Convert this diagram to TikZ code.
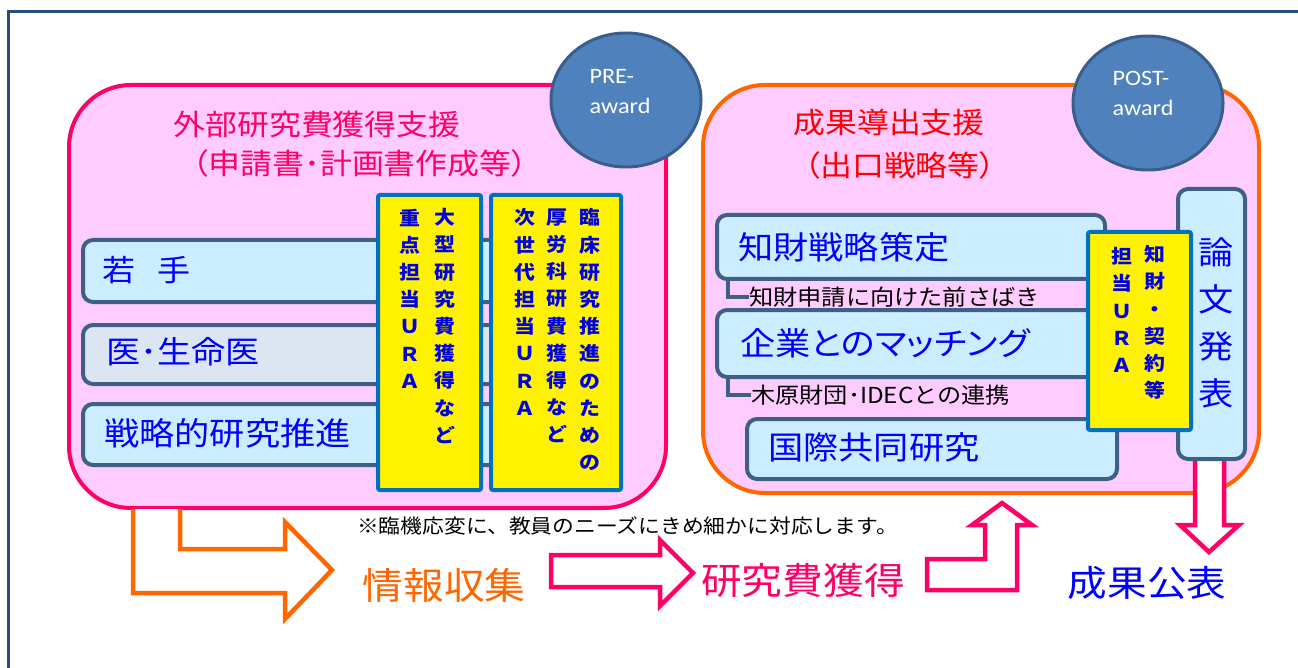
\documentclass[tikz,border=0pt]{standalone}
\usepackage{fontspec}
\usetikzlibrary{shapes.geometric}
\newfontfamily\jp[FakeStretch=1.1]{Noto Sans CJK JP}
\newfontfamily\jpp[FakeStretch=1.1,RawFeature=+palt]{Noto Sans CJK JP}
\newfontfamily\lat[FakeStretch=1.1]{Carlito}
\definecolor{pinkfill}{HTML}{FFCCFF}
\definecolor{magB}{HTML}{FF0066}
\definecolor{orgB}{HTML}{FF6600}
\definecolor{badgeF}{HTML}{4F81BD}
\definecolor{badgeB}{HTML}{3A5E8C}
\definecolor{lblue}{HTML}{CCECFF}
\definecolor{lgray}{HTML}{DCE6F2}
\definecolor{boxB}{HTML}{3E5F86}
\definecolor{yB}{HTML}{0070C0}
\definecolor{txtB}{HTML}{0000FF}
\definecolor{colT}{HTML}{0000E0}
\definecolor{frameC}{HTML}{264E80}
\definecolor{redT}{HTML}{FF0000}
\tikzset{
  panelL/.style={fill=pinkfill, draw=magB, line width=4pt, rounded corners=62pt},
  panelR/.style={fill=pinkfill, draw=orgB, line width=4pt, rounded corners=62pt},
  badge/.style={ellipse, fill=badgeF, draw=badgeB, line width=3pt, minimum width=150pt, minimum height=134pt, inner sep=0pt},
  badgetxt/.style={text=white, align=left, inner sep=0pt, font=\lat\fontsize{22}{30}\selectfont},
  bluebox/.style={fill=lblue, draw=boxB, line width=4pt, rounded corners=10pt, inner sep=0pt, anchor=north west},
  ybox/.style={fill=yellow, draw=yB, line width=4pt, rounded corners=2pt, inner sep=0pt, anchor=north west},
  lbl/.style={text=txtB, anchor=west, inner sep=0pt},
  vcol/.style={text=colT, align=center, inner sep=0pt, font=\jp\bfseries\fontsize{19}{27.2}\selectfont},
  sub/.style={text=black, anchor=west, inner sep=0pt, font=\jp\fontsize{22}{24}\selectfont},
  conn/.style={draw=boxB, line width=4pt},
  barrow/.style={fill=white, line width=4.5pt, line join=miter},
  big/.style={inner sep=0pt, font=\jp\fontsize{37}{40}\selectfont},
  ttl/.style={inner sep=0pt, font=\jp\fontsize{29}{32}\selectfont},
}
\begin{document}
\begin{tikzpicture}[x=1pt,y=-1pt]
\useasboundingbox (0,0) rectangle (1298,668);
% frame
\draw[frameC, line width=3pt] (8,670) -- (8,12) -- (1300,12);
% panels
\draw[panelL] (69,85) rectangle (666,508);
\draw[panelR] (703,85) rectangle (1259,493);
% badges
\node[badge] (pre) at (626,100) {};
\node[badgetxt] (pretxt) at (620,92) {PRE-\\award};
\node[badge] (post) at (1148,103) {};
\node[badgetxt] (posttxt) at (1143,93) {POST-\\award};
% titles
\node[ttl, text=magB] (t1) at (317,125) {外部研究費獲得支援};
\node[ttl, text=magB, font=\jpp\fontsize{29}{32}\selectfont] (t1b) at (360,163) {（申請書･計画書作成等）};
\node[ttl, text=redT] (t2) at (889,123) {成果導出支援};
\node[ttl, text=redT, font=\jpp\fontsize{29}{32}\selectfont] (t2b) at (900,165) {（出口戦略等）};
% left blue boxes
\node[bluebox, minimum width=479pt, minimum height=62pt] (wakate) at (81,238) {};
\node[bluebox, fill=lgray, minimum width=479pt, minimum height=59pt] (ika) at (81,323) {};
\node[bluebox, minimum width=479pt, minimum height=61pt] (senr) at (81,402) {};
\node[lbl, font=\jp\fontsize{30}{32}\selectfont] (wakateL) at (102,270) {若\kern22pt 手};
\node[lbl, font=\jp\fontsize{31}{33}\selectfont] (ikaL) at (106,352) {医･生命医};
\node[lbl, font=\jp\fontsize{32}{34}\selectfont] (senrL) at (104,433) {戦略的研究推進};
% left yellow boxes
\node[ybox, minimum width=103pt, minimum height=295pt] (y1) at (376,193) {};
\node[ybox, minimum width=130pt, minimum height=295pt] (y2) at (489,193) {};
\node[vcol] (y1a) at (445,326) {大\\型\\研\\究\\費\\獲\\得\\な\\ど};
\node[vcol] (y1b) at (410,298.6) {重\\点\\担\\当\\Ｕ\\Ｒ\\Ａ};
\node[vcol] (y2a) at (590,339.6) {臨\\床\\研\\究\\推\\進\\の\\た\\め\\の};
\node[vcol] (y2b) at (557,326) {厚\\労\\科\\研\\費\\獲\\得\\な\\ど};
\node[vcol] (y2c) at (525,312) {次\\世\\代\\担\\当\\Ｕ\\Ｒ\\Ａ};
% right side sub labels and connectors
\node[sub] (sub1) at (749,297) {知財申請に向けた前さばき};
\node[sub] (sub2) at (751,395) {木原財団･IDECとの連携};
\node[bluebox, minimum width=388pt, minimum height=64pt] (chizai) at (715,213) {};
\node[bluebox, minimum width=385pt, minimum height=67pt] (kigyo) at (715,308) {};
\draw[conn] ([xshift=13pt]chizai.south west) |- (sub1.west);
\draw[conn] ([xshift=13pt]kigyo.south west) |- (sub2.west);
\node[bluebox, minimum width=370pt, minimum height=60pt] (kokusai) at (745,417) {};
\node[lbl, font=\jp\fontsize{32}{34}\selectfont] (chizaiL) at (738,247) {知財戦略策定};
\node[lbl, font=\jpp\fontsize{32}{34}\selectfont] (kigyoL) at (740,343) {企業とのマッチング};
\node[lbl, font=\jp\fontsize{32}{34}\selectfont] (kokusaiL) at (768,447) {国際共同研究};
% down arrow (behind paper box)
\draw[barrow, draw=magB] (1195,459) -- (1195,525) -- (1180,525) -- (1209,552) -- (1239,525) -- (1224,525) -- (1224,459);
\node[bluebox, minimum width=67pt, minimum height=270pt] (ronbun) at (1176,187) {};
\node[text=txtB, align=center, inner sep=0pt, font=\jp\fontsize{32}{47}\selectfont] (ronbunL) at (1216,322.5) {論\\文\\発\\表};
\node[ybox, minimum width=103pt, minimum height=198pt] (yr) at (1086,230) {};
\node[vcol] (yra) at (1155,322.5) {知\\財\\・\\契\\約\\等};
\node[vcol] (yrb) at (1122,310) {担\\当\\Ｕ\\Ｒ\\Ａ};
% bottom arrows
\draw[barrow, draw=orgB] (133,509) -- (133,593) -- (285,593) -- (285,619) -- (332,570) -- (285,522) -- (285,549) -- (180,549) -- (180,509);
\draw[barrow, draw=magB] (551,555) -- (660,555) -- (660,540) -- (693,573) -- (660,606) -- (660,587) -- (551,587) -- cycle;
\draw[barrow, draw=magB] (927,559) -- (985,559) -- (985,525) -- (972,525) -- (1002,503) -- (1032,525) -- (1017,525) -- (1017,590) -- (927,590) -- cycle;
% bottom texts
\node[text=black, anchor=west, inner sep=0pt, font=\jp\fontsize{19.8}{22}\selectfont] (note) at (357,526) {※臨機応変に、教員のニーズにきめ細かに対応します。};
\node[big, text=orgB] (info) at (444,585) {情報収集};
\node[big, text=magB] (fund) at (803,580) {研究費獲得};
\node[big, text=txtB, font=\jp\fontsize{36}{40}\selectfont] (pub) at (1147,583) {成果公表};
\end{tikzpicture}
\end{document}
